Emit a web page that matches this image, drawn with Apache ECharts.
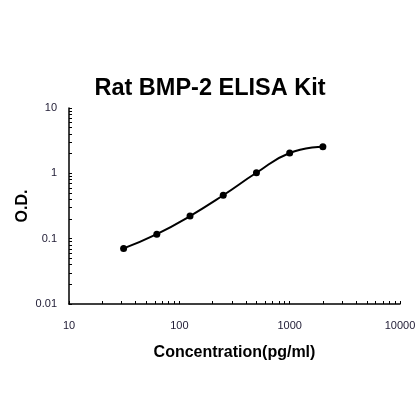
<!DOCTYPE html>
<html>
<head>
  <meta charset="UTF-8">
  <title>Rat BMP-2 ELISA Kit</title>
  <script src="https://cdn.jsdelivr.net/npm/echarts@6.0.0/dist/echarts.min.js"></script>
  <style>
    html, body { margin: 0; padding: 0; background: #fff; }
    #chart { width: 420px; height: 420px; }
  </style>
</head>
<body>
  <div id="chart"></div>
  <script>
    // standard curve points (concentration pg/ml, O.D.)
    var concentration = [31.25, 62.5, 125, 250, 500, 1000, 2000];
    var od = [0.071, 0.117, 0.222, 0.462, 1.02, 2.05, 2.56];

    // axis label values and ticks (log scale, ticks at every 1..9 x decade)
    var xLabels = [10, 100, 1000, 10000];
    var yLabels = [0.01, 0.1, 1, 10];
    var xTicks = [];
    var yTicks = [];
    [10, 100, 1000].forEach(function (d) {
      for (var k = 1; k <= 9; k++) xTicks.push(d * k);
    });
    xTicks.push(10000);
    [0.01, 0.1, 1].forEach(function (d) {
      for (var k = 1; k <= 9; k++) yTicks.push(+(d * k).toPrecision(3));
    });
    yTicks.push(10);

    var chart = echarts.init(document.getElementById('chart'));

    var labelStyle = {
      color: '#1e1a33',
      fontFamily: 'Liberation Sans',
      fontSize: 11
    };
    var plainNumber = function (v) { return String(+(+v).toPrecision(3)); };

    chart.setOption({
      animation: false,
      title: {
        text: 'Rat BMP-2 ELISA Kit',
        left: 'center',
        top: 72,
        textStyle: {
          fontFamily: 'Liberation Sans',
          fontWeight: 'bold',
          fontSize: 23.5,
          color: '#000'
        }
      },
      grid: {
        left: 69,
        right: 20,
        top: 108,
        bottom: 116
      },
      xAxis: {
        type: 'log',
        logBase: 10,
        min: 10,
        max: 10000,
        name: 'Concentration(pg/ml)',
        nameLocation: 'middle',
        nameGap: 41,
        nameMoveOverlap: false,
        nameTextStyle: {
          fontFamily: 'Liberation Sans',
          fontWeight: 'bold',
          fontSize: 16,
          color: '#000'
        },
        axisLine: { lineStyle: { color: '#000', width: 1.5 } },
        axisTick: {
          inside: true,
          length: 3,
          customValues: xTicks,
          lineStyle: { color: '#000' }
        },
        axisLabel: Object.assign({
          customValues: xLabels,
          margin: 16,
          formatter: plainNumber
        }, labelStyle),
        splitLine: { show: false }
      },
      yAxis: {
        type: 'log',
        logBase: 10,
        min: 0.01,
        max: 10,
        name: 'O.D.',
        nameLocation: 'middle',
        nameGap: 38,
        nameMoveOverlap: false,
        nameTextStyle: {
          fontFamily: 'Liberation Sans',
          fontWeight: 'bold',
          fontSize: 16,
          color: '#000'
        },
        axisLine: { show: true, lineStyle: { color: '#000', width: 1.5 } },
        axisTick: {
          show: true,
          inside: true,
          length: 3,
          customValues: yTicks,
          lineStyle: { color: '#000' }
        },
        axisLabel: Object.assign({
          customValues: yLabels,
          margin: 12,
          formatter: plainNumber
        }, labelStyle),
        splitLine: { show: false }
      },
      series: [{
        type: 'line',
        data: concentration.map(function (c, i) { return [c, od[i]]; }),
        smooth: true,
        symbol: 'circle',
        symbolSize: 7,
        lineStyle: { color: '#000', width: 2 },
        itemStyle: { color: '#000' }
      }]
    });
  </script>
</body>
</html>
